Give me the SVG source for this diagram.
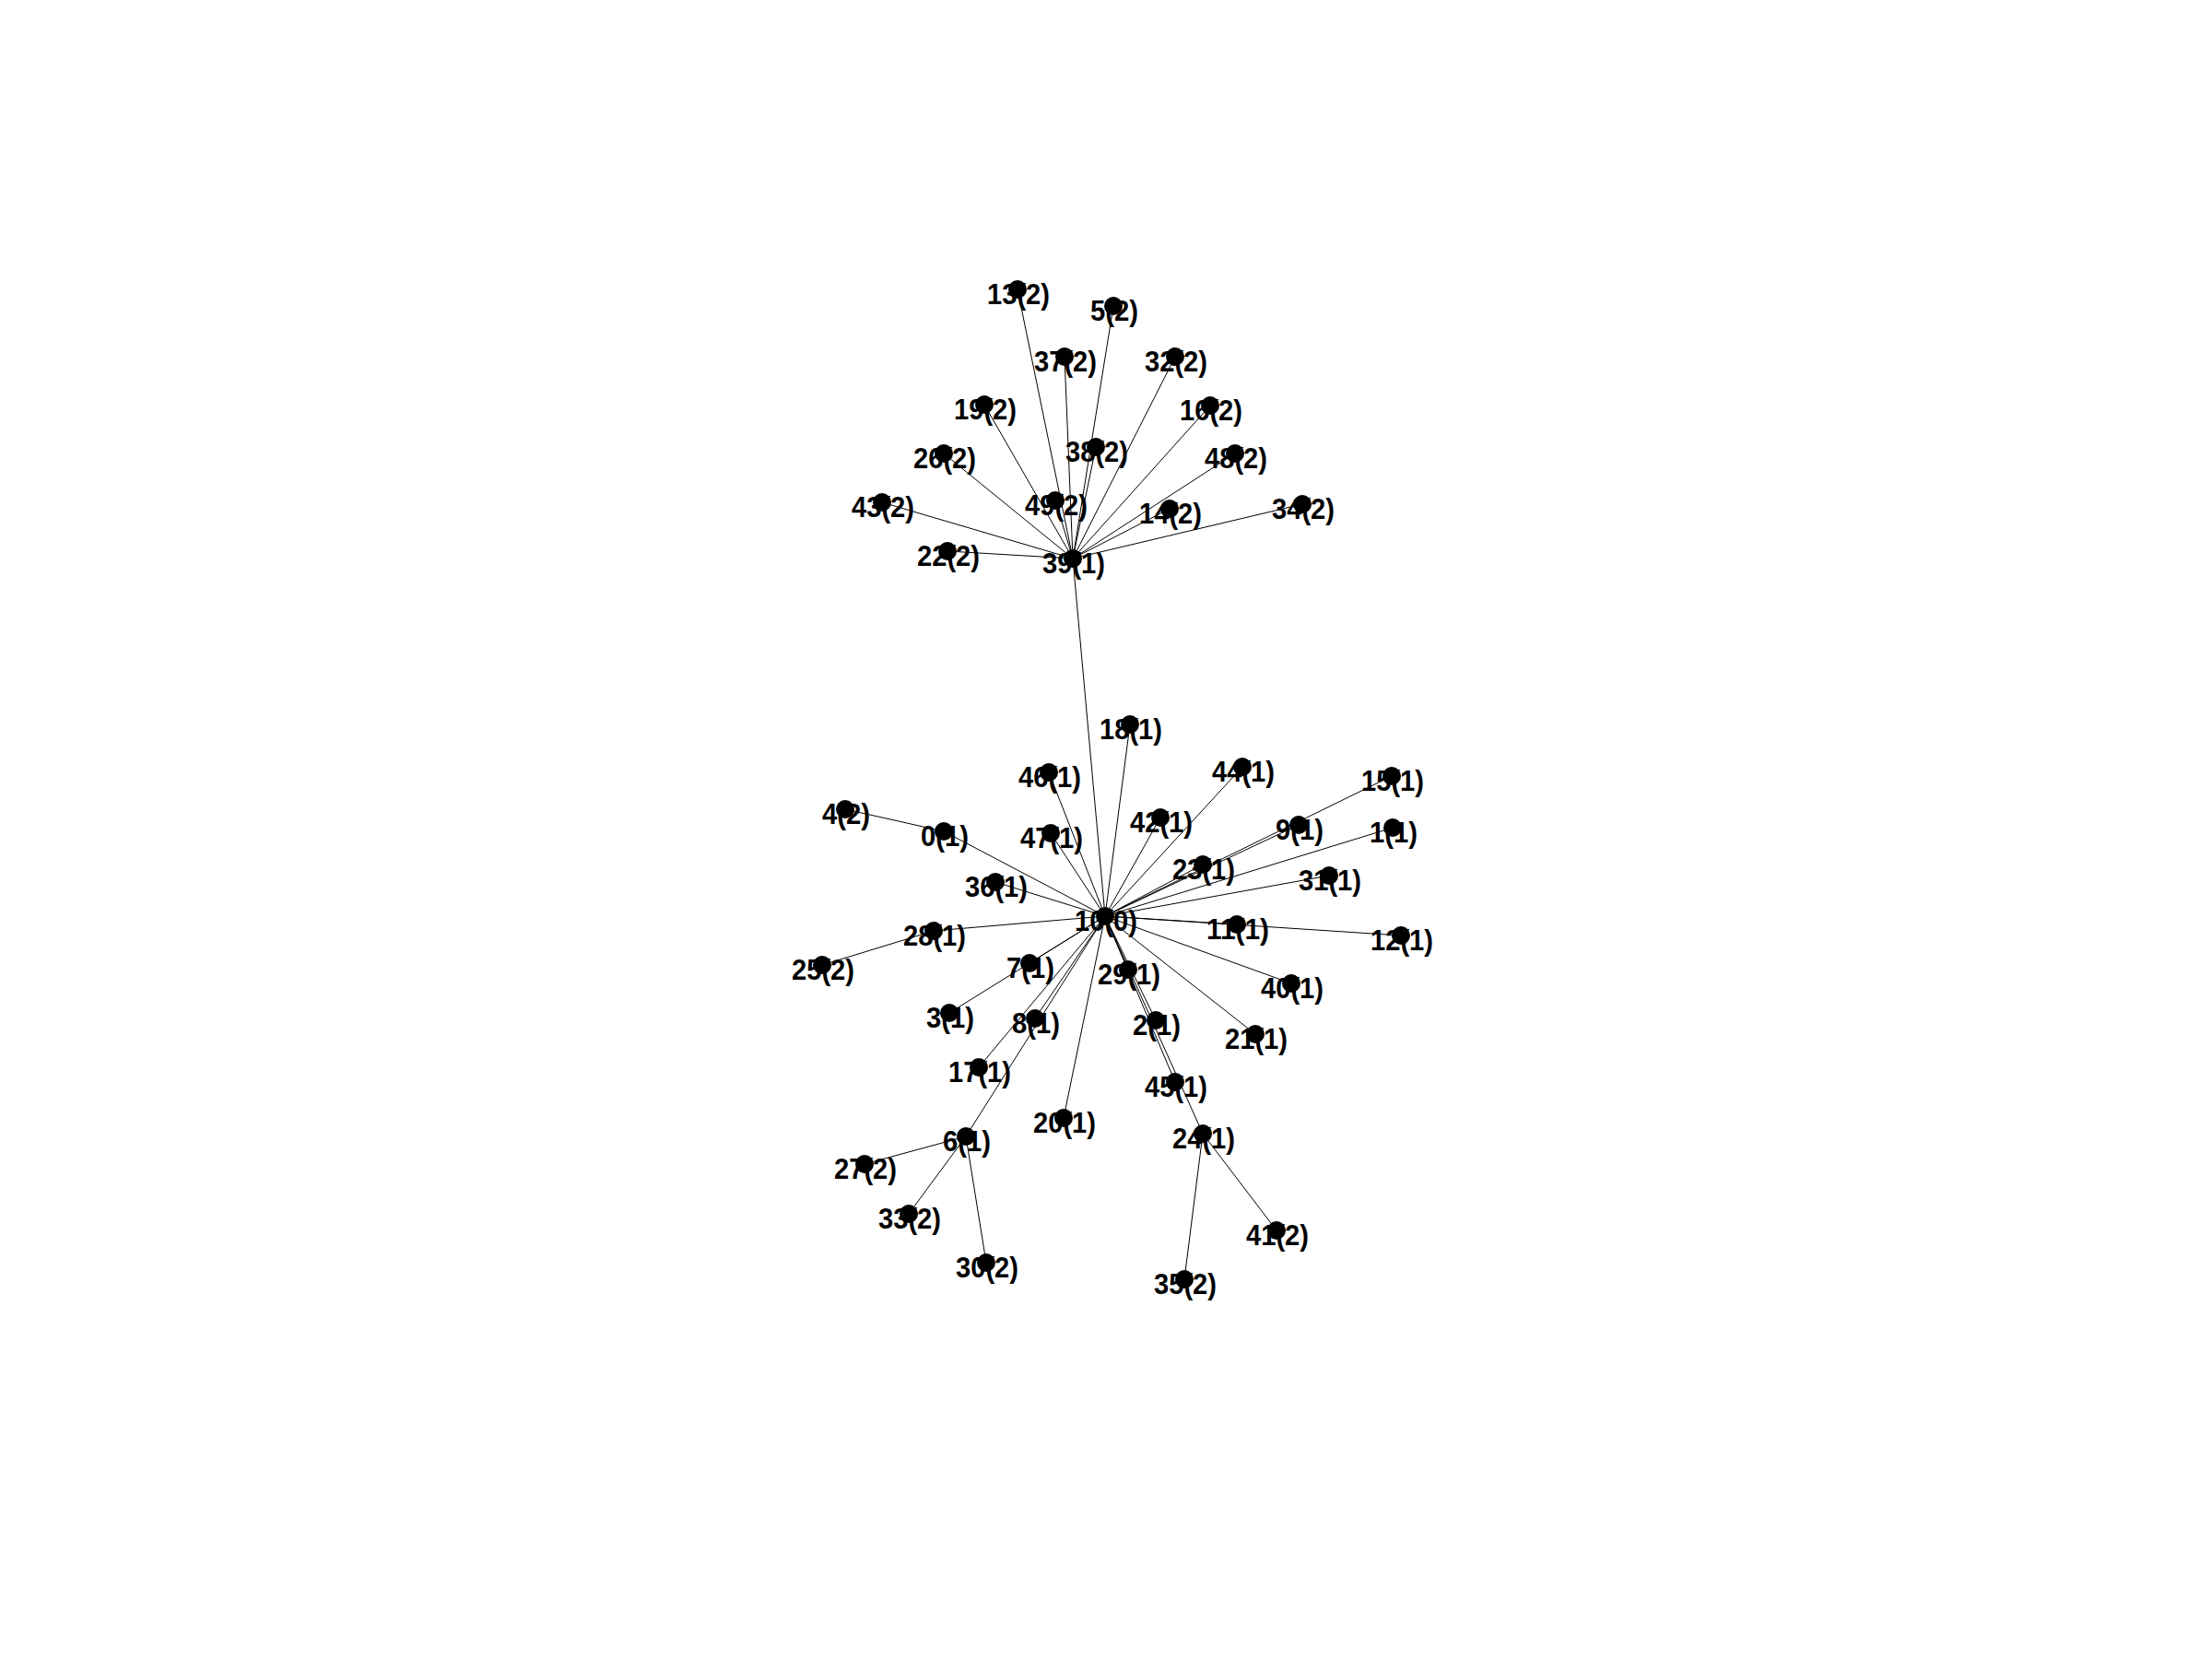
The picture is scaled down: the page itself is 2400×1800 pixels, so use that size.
<svg xmlns="http://www.w3.org/2000/svg" width="2400" height="1800" viewBox="0 0 2400 1800">
<style>
.e{stroke:#000;stroke-width:1;fill:none}
.n circle{fill:#000}
.n text{font-family:"Liberation Sans",Arial,sans-serif;font-weight:bold;font-size:31px;fill:#000;text-anchor:middle}
</style>
<rect width="2400" height="1800" fill="#fff"/>
<g id="edges" class="e">
<line x1="1199" y1="994" x2="1164" y2="606"/>
<line x1="1164" y1="606" x2="1104" y2="314"/>
<line x1="1164" y1="606" x2="1208" y2="332"/>
<line x1="1164" y1="606" x2="1155" y2="387"/>
<line x1="1164" y1="606" x2="1275" y2="387"/>
<line x1="1164" y1="606" x2="1068" y2="439"/>
<line x1="1164" y1="606" x2="1313" y2="440"/>
<line x1="1164" y1="606" x2="1189" y2="485"/>
<line x1="1164" y1="606" x2="1024" y2="492"/>
<line x1="1164" y1="606" x2="1340" y2="492"/>
<line x1="1164" y1="606" x2="957" y2="545"/>
<line x1="1164" y1="606" x2="1145" y2="543"/>
<line x1="1164" y1="606" x2="1269" y2="552"/>
<line x1="1164" y1="606" x2="1413" y2="547"/>
<line x1="1164" y1="606" x2="1028" y2="598"/>
<line x1="1199" y1="994" x2="1226" y2="786"/>
<line x1="1199" y1="994" x2="1138" y2="838"/>
<line x1="1199" y1="994" x2="1348" y2="832"/>
<line x1="1199" y1="994" x2="1510" y2="842"/>
<line x1="1199" y1="994" x2="1259" y2="887"/>
<line x1="1199" y1="994" x2="1024" y2="902"/>
<line x1="1024" y1="902" x2="917" y2="878"/>
<line x1="1199" y1="994" x2="1140" y2="904"/>
<line x1="1199" y1="994" x2="1409" y2="895"/>
<line x1="1199" y1="994" x2="1511" y2="898"/>
<line x1="1199" y1="994" x2="1305" y2="938"/>
<line x1="1199" y1="994" x2="1080" y2="957"/>
<line x1="1199" y1="994" x2="1442" y2="950"/>
<line x1="1199" y1="994" x2="1342" y2="1003"/>
<line x1="1199" y1="994" x2="1013" y2="1010"/>
<line x1="1013" y1="1010" x2="892" y2="1047"/>
<line x1="1199" y1="994" x2="1520" y2="1015"/>
<line x1="1199" y1="994" x2="1117" y2="1045"/>
<line x1="1199" y1="994" x2="1224" y2="1052"/>
<line x1="1199" y1="994" x2="1401" y2="1067"/>
<line x1="1199" y1="994" x2="1030" y2="1099"/>
<line x1="1199" y1="994" x2="1123" y2="1105"/>
<line x1="1199" y1="994" x2="1254" y2="1107"/>
<line x1="1199" y1="994" x2="1362" y2="1122"/>
<line x1="1199" y1="994" x2="1062" y2="1158"/>
<line x1="1199" y1="994" x2="1275" y2="1174"/>
<line x1="1199" y1="994" x2="1154" y2="1213"/>
<line x1="1199" y1="994" x2="1048" y2="1233"/>
<line x1="1199" y1="994" x2="1305" y2="1230"/>
<line x1="1048" y1="1233" x2="938" y2="1263"/>
<line x1="1048" y1="1233" x2="986" y2="1317"/>
<line x1="1048" y1="1233" x2="1070" y2="1370"/>
<line x1="1305" y1="1230" x2="1385" y2="1335"/>
<line x1="1305" y1="1230" x2="1285" y2="1388"/>
</g>
<g id="nodes">
<g id="n10" class="n"><circle cx="1199" cy="994" r="10"/><text x="1200" y="1010" textLength="68" lengthAdjust="spacingAndGlyphs">10(0)</text></g>
<g id="n39" class="n"><circle cx="1164" cy="606" r="10"/><text x="1165" y="622" textLength="68" lengthAdjust="spacingAndGlyphs">39(1)</text></g>
<g id="n13" class="n"><circle cx="1104" cy="314" r="10"/><text x="1105" y="330" textLength="68" lengthAdjust="spacingAndGlyphs">13(2)</text></g>
<g id="n5" class="n"><circle cx="1208" cy="332" r="10"/><text x="1209" y="348" textLength="52" lengthAdjust="spacingAndGlyphs">5(2)</text></g>
<g id="n37" class="n"><circle cx="1155" cy="387" r="10"/><text x="1156" y="403" textLength="68" lengthAdjust="spacingAndGlyphs">37(2)</text></g>
<g id="n32" class="n"><circle cx="1275" cy="387" r="10"/><text x="1276" y="403" textLength="68" lengthAdjust="spacingAndGlyphs">32(2)</text></g>
<g id="n19" class="n"><circle cx="1068" cy="439" r="10"/><text x="1069" y="455" textLength="68" lengthAdjust="spacingAndGlyphs">19(2)</text></g>
<g id="n16" class="n"><circle cx="1313" cy="440" r="10"/><text x="1314" y="456" textLength="68" lengthAdjust="spacingAndGlyphs">16(2)</text></g>
<g id="n38" class="n"><circle cx="1189" cy="485" r="10"/><text x="1190" y="501" textLength="68" lengthAdjust="spacingAndGlyphs">38(2)</text></g>
<g id="n26" class="n"><circle cx="1024" cy="492" r="10"/><text x="1025" y="508" textLength="68" lengthAdjust="spacingAndGlyphs">26(2)</text></g>
<g id="n48" class="n"><circle cx="1340" cy="492" r="10"/><text x="1341" y="508" textLength="68" lengthAdjust="spacingAndGlyphs">48(2)</text></g>
<g id="n43" class="n"><circle cx="957" cy="545" r="10"/><text x="958" y="561" textLength="68" lengthAdjust="spacingAndGlyphs">43(2)</text></g>
<g id="n49" class="n"><circle cx="1145" cy="543" r="10"/><text x="1146" y="559" textLength="68" lengthAdjust="spacingAndGlyphs">49(2)</text></g>
<g id="n14" class="n"><circle cx="1269" cy="552" r="10"/><text x="1270" y="568" textLength="68" lengthAdjust="spacingAndGlyphs">14(2)</text></g>
<g id="n34" class="n"><circle cx="1413" cy="547" r="10"/><text x="1414" y="563" textLength="68" lengthAdjust="spacingAndGlyphs">34(2)</text></g>
<g id="n22" class="n"><circle cx="1028" cy="598" r="10"/><text x="1029" y="614" textLength="68" lengthAdjust="spacingAndGlyphs">22(2)</text></g>
<g id="n18" class="n"><circle cx="1226" cy="786" r="10"/><text x="1227" y="802" textLength="68" lengthAdjust="spacingAndGlyphs">18(1)</text></g>
<g id="n46" class="n"><circle cx="1138" cy="838" r="10"/><text x="1139" y="854" textLength="68" lengthAdjust="spacingAndGlyphs">46(1)</text></g>
<g id="n44" class="n"><circle cx="1348" cy="832" r="10"/><text x="1349" y="848" textLength="68" lengthAdjust="spacingAndGlyphs">44(1)</text></g>
<g id="n15" class="n"><circle cx="1510" cy="842" r="10"/><text x="1511" y="858" textLength="68" lengthAdjust="spacingAndGlyphs">15(1)</text></g>
<g id="n4" class="n"><circle cx="917" cy="878" r="10"/><text x="918" y="894" textLength="52" lengthAdjust="spacingAndGlyphs">4(2)</text></g>
<g id="n42" class="n"><circle cx="1259" cy="887" r="10"/><text x="1260" y="903" textLength="68" lengthAdjust="spacingAndGlyphs">42(1)</text></g>
<g id="n0" class="n"><circle cx="1024" cy="902" r="10"/><text x="1025" y="918" textLength="52" lengthAdjust="spacingAndGlyphs">0(1)</text></g>
<g id="n47" class="n"><circle cx="1140" cy="904" r="10"/><text x="1141" y="920" textLength="68" lengthAdjust="spacingAndGlyphs">47(1)</text></g>
<g id="n9" class="n"><circle cx="1409" cy="895" r="10"/><text x="1410" y="911" textLength="52" lengthAdjust="spacingAndGlyphs">9(1)</text></g>
<g id="n1" class="n"><circle cx="1511" cy="898" r="10"/><text x="1512" y="914" textLength="52" lengthAdjust="spacingAndGlyphs">1(1)</text></g>
<g id="n23" class="n"><circle cx="1305" cy="938" r="10"/><text x="1306" y="954" textLength="68" lengthAdjust="spacingAndGlyphs">23(1)</text></g>
<g id="n36" class="n"><circle cx="1080" cy="957" r="10"/><text x="1081" y="973" textLength="68" lengthAdjust="spacingAndGlyphs">36(1)</text></g>
<g id="n31" class="n"><circle cx="1442" cy="950" r="10"/><text x="1443" y="966" textLength="68" lengthAdjust="spacingAndGlyphs">31(1)</text></g>
<g id="n11" class="n"><circle cx="1342" cy="1003" r="10"/><text x="1343" y="1019" textLength="68" lengthAdjust="spacingAndGlyphs">11(1)</text></g>
<g id="n28" class="n"><circle cx="1013" cy="1010" r="10"/><text x="1014" y="1026" textLength="68" lengthAdjust="spacingAndGlyphs">28(1)</text></g>
<g id="n12" class="n"><circle cx="1520" cy="1015" r="10"/><text x="1521" y="1031" textLength="68" lengthAdjust="spacingAndGlyphs">12(1)</text></g>
<g id="n25" class="n"><circle cx="892" cy="1047" r="10"/><text x="893" y="1063" textLength="68" lengthAdjust="spacingAndGlyphs">25(2)</text></g>
<g id="n7" class="n"><circle cx="1117" cy="1045" r="10"/><text x="1118" y="1061" textLength="52" lengthAdjust="spacingAndGlyphs">7(1)</text></g>
<g id="n29" class="n"><circle cx="1224" cy="1052" r="10"/><text x="1225" y="1068" textLength="68" lengthAdjust="spacingAndGlyphs">29(1)</text></g>
<g id="n40" class="n"><circle cx="1401" cy="1067" r="10"/><text x="1402" y="1083" textLength="68" lengthAdjust="spacingAndGlyphs">40(1)</text></g>
<g id="n3" class="n"><circle cx="1030" cy="1099" r="10"/><text x="1031" y="1115" textLength="52" lengthAdjust="spacingAndGlyphs">3(1)</text></g>
<g id="n8" class="n"><circle cx="1123" cy="1105" r="10"/><text x="1124" y="1121" textLength="52" lengthAdjust="spacingAndGlyphs">8(1)</text></g>
<g id="n2" class="n"><circle cx="1254" cy="1107" r="10"/><text x="1255" y="1123" textLength="52" lengthAdjust="spacingAndGlyphs">2(1)</text></g>
<g id="n21" class="n"><circle cx="1362" cy="1122" r="10"/><text x="1363" y="1138" textLength="68" lengthAdjust="spacingAndGlyphs">21(1)</text></g>
<g id="n17" class="n"><circle cx="1062" cy="1158" r="10"/><text x="1063" y="1174" textLength="68" lengthAdjust="spacingAndGlyphs">17(1)</text></g>
<g id="n45" class="n"><circle cx="1275" cy="1174" r="10"/><text x="1276" y="1190" textLength="68" lengthAdjust="spacingAndGlyphs">45(1)</text></g>
<g id="n20" class="n"><circle cx="1154" cy="1213" r="10"/><text x="1155" y="1229" textLength="68" lengthAdjust="spacingAndGlyphs">20(1)</text></g>
<g id="n6" class="n"><circle cx="1048" cy="1233" r="10"/><text x="1049" y="1249" textLength="52" lengthAdjust="spacingAndGlyphs">6(1)</text></g>
<g id="n24" class="n"><circle cx="1305" cy="1230" r="10"/><text x="1306" y="1246" textLength="68" lengthAdjust="spacingAndGlyphs">24(1)</text></g>
<g id="n27" class="n"><circle cx="938" cy="1263" r="10"/><text x="939" y="1279" textLength="68" lengthAdjust="spacingAndGlyphs">27(2)</text></g>
<g id="n33" class="n"><circle cx="986" cy="1317" r="10"/><text x="987" y="1333" textLength="68" lengthAdjust="spacingAndGlyphs">33(2)</text></g>
<g id="n41" class="n"><circle cx="1385" cy="1335" r="10"/><text x="1386" y="1351" textLength="68" lengthAdjust="spacingAndGlyphs">41(2)</text></g>
<g id="n30" class="n"><circle cx="1070" cy="1370" r="10"/><text x="1071" y="1386" textLength="68" lengthAdjust="spacingAndGlyphs">30(2)</text></g>
<g id="n35" class="n"><circle cx="1285" cy="1388" r="10"/><text x="1286" y="1404" textLength="68" lengthAdjust="spacingAndGlyphs">35(2)</text></g>
</g>
</svg>
